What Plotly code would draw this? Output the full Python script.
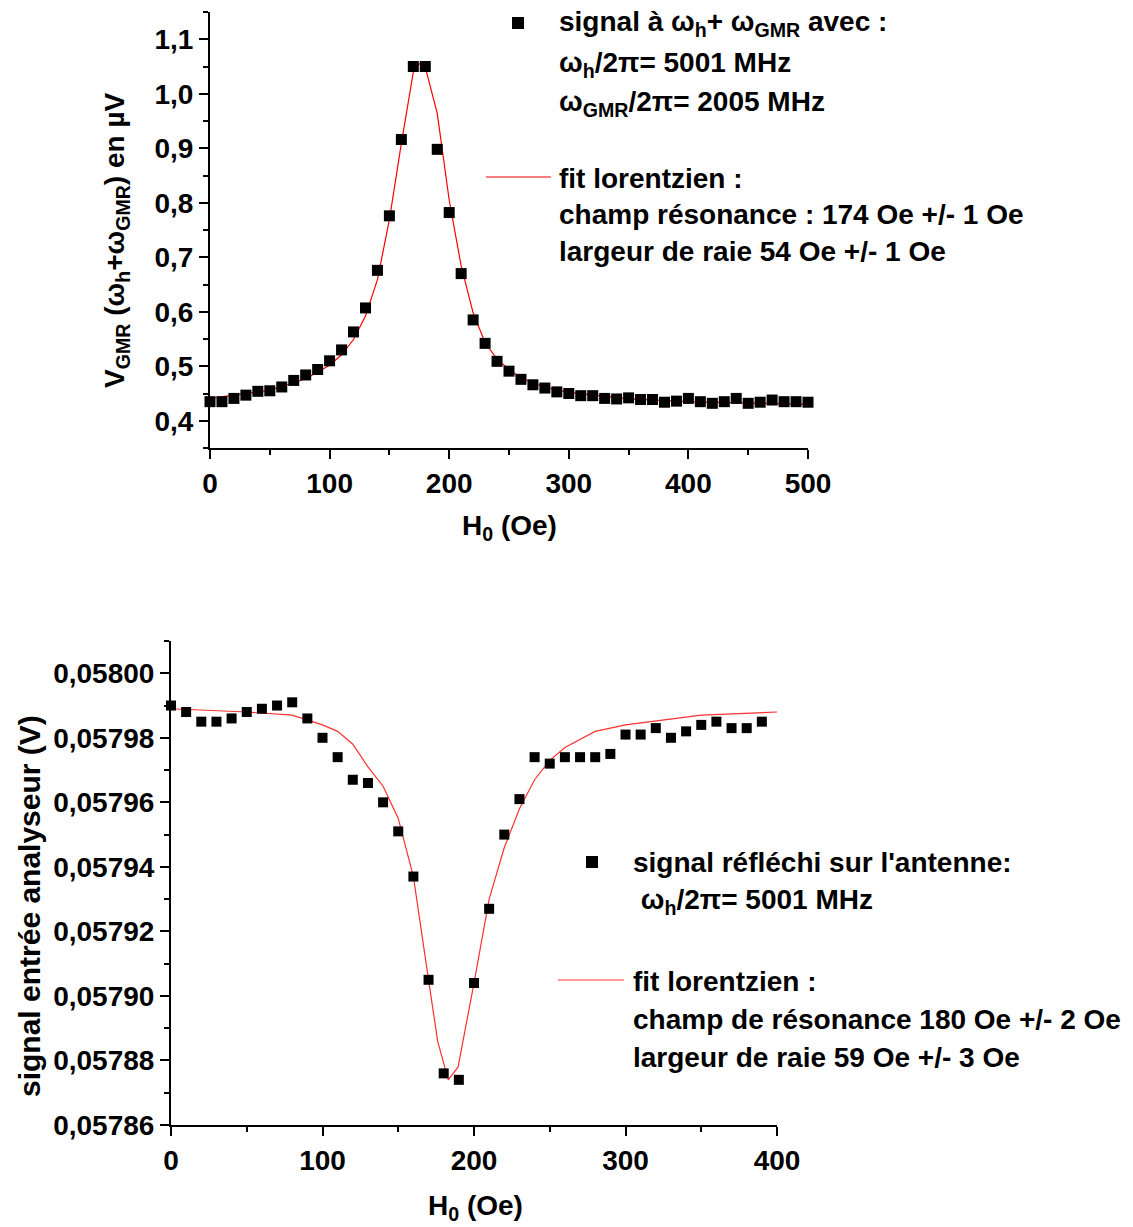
import plotly.graph_objects as go

W, H = 1133, 1227
FONT = "Liberation Sans, Arial, sans-serif"

# ---------------- Top chart data ----------------
top_h = [0, 10, 20, 30, 40, 50, 60, 70, 80, 90, 100, 110, 120, 130, 140, 150, 160, 170, 180, 190,
         200, 210, 220, 230, 240, 250, 260, 270, 280, 290, 300, 310, 320, 330, 340, 350, 360, 370,
         380, 390, 400, 410, 420, 430, 440, 450, 460, 470, 480, 490, 500]
top_v = [0.435, 0.435, 0.441, 0.447, 0.454, 0.455, 0.462, 0.474, 0.484, 0.494, 0.510, 0.530, 0.563,
         0.607, 0.676, 0.776, 0.916, 1.050, 1.050, 0.898, 0.782, 0.670, 0.585, 0.542, 0.509, 0.491,
         0.476, 0.466, 0.460, 0.453, 0.450, 0.446, 0.446, 0.441, 0.440, 0.442, 0.439, 0.439, 0.434,
         0.436, 0.441, 0.435, 0.432, 0.435, 0.441, 0.432, 0.434, 0.438, 0.435, 0.435, 0.434]

top_fit_h = [0, 50, 80, 100, 110, 120, 130, 140, 150, 160, 170, 175, 180, 190, 200, 210, 220, 230,
             240, 250, 260, 280, 300, 350, 400, 450, 500]
top_fit_v = [0.441, 0.456, 0.477, 0.502, 0.521, 0.549, 0.592, 0.659, 0.769, 0.909, 1.040, 1.055,
             1.049, 0.964, 0.805, 0.684, 0.598, 0.543, 0.513, 0.494, 0.479, 0.461, 0.452, 0.440,
             0.435, 0.432, 0.430]

# ---------------- Bottom chart data ----------------
bot_h = [0, 10, 20, 30, 40, 50, 60, 70, 80, 90, 100, 110, 120, 130, 140, 150, 160, 170, 180, 190,
         200, 210, 220, 230, 240, 250, 260, 270, 280, 290, 300, 310, 320, 330, 340, 350, 360, 370,
         380, 390]
bot_v = [0.057990, 0.057988, 0.057985, 0.057985, 0.057986, 0.057988, 0.057989, 0.057990, 0.057991,
         0.057986, 0.057980, 0.057974, 0.057967, 0.057966, 0.057960, 0.057951, 0.057937, 0.057905,
         0.057876, 0.057874, 0.057904, 0.057927, 0.057950, 0.057961, 0.057974, 0.057972, 0.057974,
         0.057974, 0.057974, 0.057975, 0.057981, 0.057981, 0.057983, 0.057980, 0.057982, 0.057984,
         0.057985, 0.057983, 0.057983, 0.057985]

bot_fit_h = [0, 50, 80, 100, 110, 120, 130, 140, 150, 160, 170, 176, 183, 189.5, 200, 210, 220,
             230, 240, 250, 260, 280, 300, 350, 400]
bot_fit_v = [0.057989, 0.057988, 0.057987, 0.057984, 0.057982, 0.057978, 0.057971, 0.057965,
             0.057955, 0.057937, 0.057905, 0.057886, 0.057874, 0.057878, 0.057904, 0.057930,
             0.057946, 0.057958, 0.057967, 0.057973, 0.057977, 0.057982, 0.057984, 0.057987,
             0.057988]

top_xticks = [0, 100, 200, 300, 400, 500]
bot_xticks = [0, 100, 200, 300, 400]


def px(x):
    return x / W


def py(y):
    return 1 - y / H


fig = go.Figure()

fig.add_trace(go.Scatter(x=top_fit_h, y=top_fit_v, mode="lines",
                         line=dict(color="#ff0000", width=1.2), xaxis="x", yaxis="y",
                         showlegend=False, cliponaxis=False))
fig.add_trace(go.Scatter(x=top_h, y=top_v, mode="markers",
                         marker=dict(symbol="square", size=11, color="black"),
                         xaxis="x", yaxis="y", showlegend=False, cliponaxis=False))
fig.add_trace(go.Scatter(x=bot_fit_h, y=bot_fit_v, mode="lines",
                         line=dict(color="#ff3030", width=1.2), xaxis="x2", yaxis="y2",
                         showlegend=False, cliponaxis=False))
fig.add_trace(go.Scatter(x=bot_h, y=bot_v, mode="markers",
                         marker=dict(symbol="square", size=10, color="black"),
                         xaxis="x2", yaxis="y2", showlegend=False, cliponaxis=False))

tickfont = dict(family=FONT, size=28, color="black", weight="bold")
axis_common = dict(showline=True, linecolor="black", linewidth=2, ticks="outside", ticklen=9,
                   tickwidth=2, tickcolor="black", showgrid=False, zeroline=False,
                   tickfont=tickfont, mirror=False, automargin=False)
minor_style = dict(ticks="outside", ticklen=5, tickwidth=2, tickcolor="black")

fig.update_layout(
    width=W, height=H, autosize=False,
    margin=dict(l=0, r=0, t=0, b=0, pad=0),
    paper_bgcolor="white", plot_bgcolor="white",
    separators=", ",
    xaxis=dict(domain=[px(210), px(808)], range=[0, 500], tickvals=top_xticks,
               minor=dict(dtick=50, **minor_style), anchor="y", **axis_common),
    yaxis=dict(domain=[py(448), py(12)], range=[0.35, 1.15], dtick=0.1, tick0=0, tickformat=".1f",
               minor=dict(dtick=0.05, **minor_style), anchor="x", **axis_common),
    xaxis2=dict(domain=[px(171), px(777)], range=[0, 400], tickvals=bot_xticks,
                minor=dict(dtick=50, **minor_style), anchor="y2", **axis_common),
    yaxis2=dict(domain=[py(1125), py(641)], range=[0.05786, 0.05801], dtick=0.00002, tick0=0.05786,
                tickformat=".5f", minor=dict(dtick=0.00001, tick0=0.05786, **minor_style),
                anchor="x2", **axis_common),
)

ann = []


def text(x, y, s, xanchor="left", angle=0, size=28):
    ann.append(dict(x=px(x), y=py(y), xref="paper", yref="paper", text=s, showarrow=False,
                    xanchor=xanchor, yanchor="middle", textangle=angle, borderpad=0,
                    font=dict(family=FONT, size=size, color="black", weight="bold")))


# axis titles
text(509, 527, "H<sub>0</sub> (Oe)", xanchor="center")
text(116, 240, "V<sub>GMR</sub> (ω<sub>h</sub>+ω<sub>GMR</sub>) en µV", xanchor="center", angle=-90)
text(475, 1207, "H<sub>0</sub> (Oe)", xanchor="center")
text(29, 906, "signal entrée analyseur (V)", xanchor="center", angle=-90, size=30)

# top legend
text(558, 24, "signal à ω<sub>h</sub>+ ω<sub>GMR</sub> avec :")
text(558, 64, "ω<sub>h</sub>/2π= 5001 MHz")
text(558, 103, "ω<sub>GMR</sub>/2π= 2005 MHz")
text(558, 178, "fit lorentzien :")
text(558, 215, "champ résonance : 174 Oe +/- 1 Oe")
text(558, 251, "largeur de raie 54 Oe +/- 1 Oe")

# bottom legend
text(632, 862, "signal réfléchi sur l'antenne:")
text(632, 902, " ω<sub>h</sub>/2π= 5001 MHz")
text(632, 981, "fit lorentzien :")
text(632, 1019, "champ de résonance 180 Oe +/- 2 Oe")
text(632, 1057, "largeur de raie 59 Oe +/- 3 Oe")

fig.update_layout(annotations=ann)

shapes = [
    dict(type="rect", xref="paper", yref="paper", x0=px(512), x1=px(524), y0=py(29), y1=py(17),
         fillcolor="black", line=dict(width=0)),
    dict(type="line", xref="paper", yref="paper", x0=px(486), x1=px(551), y0=py(177), y1=py(177),
         line=dict(color="#ff0000", width=1.2)),
    dict(type="rect", xref="paper", yref="paper", x0=px(586), x1=px(598), y0=py(868), y1=py(856),
         fillcolor="black", line=dict(width=0)),
    dict(type="line", xref="paper", yref="paper", x0=px(558), x1=px(624), y0=py(980), y1=py(980),
         line=dict(color="#ff3030", width=1.2)),
]
fig.update_layout(shapes=shapes)

fig.write_html(
    "out.html",
    config={"displayModeBar": False},
    post_script=("document.documentElement.style.margin='0px';"
                 "document.body.style.margin='0px';document.body.style.padding='0px';"
                 "document.documentElement.style.overflow='hidden';"
                 "document.body.style.overflow='hidden';"),
)
